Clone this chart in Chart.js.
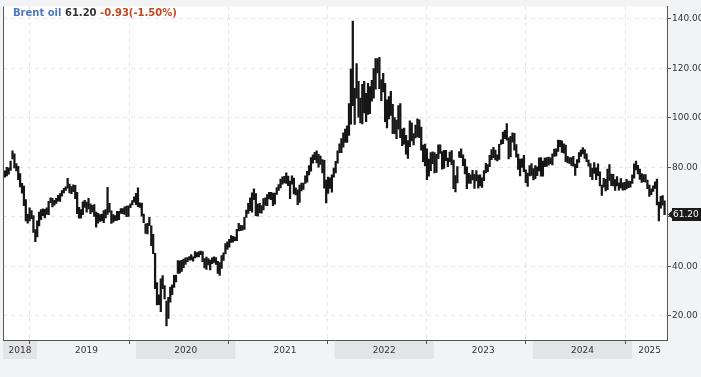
<!DOCTYPE html>
<html><head><meta charset="utf-8">
<script src="https://cdn.jsdelivr.net/npm/chart.js@4.4.1/dist/chart.umd.min.js"></script>
<style>html,body{margin:0;padding:0;background:#f2f3f5;overflow:hidden}canvas{display:block}</style>
</head><body>
<canvas id="c" width="701" height="377"></canvas>
<script>
const seriesName = 'Brent oil';
const lastPrice = 61.20, lastChange = -0.93, lastChangePct = -1.50;
const firstWeek = '2018-09-03';   // weekly bars, consecutive weeks
const years = [2018, 2019, 2020, 2021, 2022, 2023, 2024, 2025];
const yTicks = [20, 40, 60, 80, 100, 120, 140];

const low2018  = [76.1,76.6,77.3,78.8,83.5,79.8,78.6,75.1,72.1,69.6,64.6,58.4,57.5,58.4,59.3,53.8,50.0,51.9];
const high2018 = [78.6,80.1,79.9,82.6,86.7,85.5,81.6,80.5,77.5,73.6,72.5,67.0,61.1,63.7,62.6,60.6,54.9,58.4];

const low2019  = [56.4,58.9,60.5,59.6,61.0,60.9,65.8,64.1,64.8,65.5,66.4,66.3,68.4,69.7,70.7,71.6,69.7,69.4,70.2,67.4,61.3,59.5,59.5,60.9,63.9,61.9,63.2,61.3,62.0,60.2,55.9,57.5,58.2,58.4,57.7,59.6,61.0,61.9,57.4,57.9,58.5,58.6,58.9,61.4,61.3,61.0,60.1,60.2,63.8,64.9,66.0,65.0];
const high2019 = [62.0,63.0,63.3,63.1,63.7,66.3,67.7,67.5,66.7,67.5,68.7,69.4,70.7,71.6,72.2,75.6,73.3,72.3,73.0,72.8,70.0,63.9,63.0,66.1,66.7,66.0,67.5,65.3,64.7,65.0,62.0,61.5,61.0,61.2,62.6,63.0,72.0,65.5,62.5,61.0,60.6,62.3,62.3,63.4,63.4,64.1,64.4,64.5,65.3,66.6,68.1,69.5];

const low2020  = [64.2,63.9,60.3,57.7,53.3,53.1,56.5,48.4,45.2,31.0,24.5,24.6,21.7,31.0,26.9,16.0,19.0,25.6,28.6,31.5,33.7,37.2,37.3,38.0,39.5,40.8,41.9,42.5,42.6,42.1,43.4,43.9,43.9,44.8,41.9,39.4,38.8,40.6,38.6,41.1,41.6,40.8,37.2,36.4,39.2,42.4,45.1,46.9,47.8,49.7,49.8,50.4];
const high2020 = [71.8,65.7,65.6,61.2,57.2,57.4,59.8,56.4,53.0,45.3,33.5,28.5,35.0,36.3,32.3,26.0,27.5,31.7,32.6,36.4,36.5,42.4,42.3,42.5,43.0,43.5,43.6,44.0,44.8,43.9,46.0,45.6,46.0,46.2,46.0,43.2,43.8,43.2,42.6,43.5,43.9,43.6,42.1,41.6,44.4,45.5,49.2,49.9,51.0,52.5,52.2,51.9];

const low2021  = [50.4,54.4,54.5,54.7,55.0,59.8,61.4,62.5,61.9,67.0,60.5,60.3,61.6,61.5,62.8,64.7,64.6,67.3,67.0,64.6,65.2,69.1,70.7,71.7,73.2,73.8,73.6,72.6,67.4,73.2,69.3,68.9,65.0,65.9,70.5,71.1,73.5,74.1,77.0,78.5,81.7,83.1,81.8,80.1,81.2,77.8,71.6,65.7,69.5,71.5,70.0,76.1];
const high2021 = [55.0,57.4,56.6,56.5,59.8,62.8,65.5,67.7,69.7,71.4,69.4,65.2,65.5,64.6,67.4,67.7,69.0,69.9,70.0,69.6,69.6,71.9,73.1,75.3,76.2,76.4,77.8,76.5,74.5,76.6,75.7,71.8,71.0,72.9,73.7,73.7,76.6,78.4,80.8,84.0,85.1,86.1,86.7,85.3,84.6,83.2,82.9,74.9,76.1,75.8,77.0,79.7];

const low2022  = [77.8,81.7,86.0,86.0,88.2,90.1,90.1,92.9,97.5,105.0,97.4,108.0,100.3,98.0,97.6,102.0,98.5,101.4,101.7,106.8,108.0,111.6,118.2,111.8,107.0,110.5,98.5,96.0,99.6,101.0,93.7,93.7,91.6,95.5,92.0,88.8,89.4,85.4,83.7,88.4,90.7,89.1,91.9,92.3,92.0,87.0,82.3,80.6,75.1,76.5,78.7,81.5];
const high2022 = [82.5,86.7,89.5,91.7,94.0,95.5,96.8,105.8,119.8,139.1,112.0,122.0,114.8,108.0,113.6,114.8,110.0,114.0,112.7,115.2,120.0,124.0,124.0,124.5,115.5,118.0,114.0,107.3,108.6,110.8,105.5,100.2,99.1,105.0,105.8,95.5,95.9,93.0,90.9,98.8,98.0,93.7,97.1,99.6,99.2,96.3,89.0,89.4,87.5,83.4,86.0,86.3];

const low2023  = [77.8,78.0,83.6,85.7,79.3,79.6,82.7,80.3,82.3,81.1,71.4,70.1,73.8,84.1,84.0,80.7,77.4,71.4,73.6,73.6,75.0,71.5,74.6,71.6,72.5,71.9,74.7,77.8,78.3,80.3,83.1,84.0,83.0,82.6,83.2,89.3,89.6,91.6,91.0,83.4,84.3,90.2,87.0,84.2,79.2,76.6,80.0,78.3,73.9,72.3,76.6,76.8];
const high2023 = [86.0,85.3,89.1,89.1,86.4,86.9,86.9,83.8,86.2,86.8,83.0,76.7,80.4,86.4,87.5,85.1,83.4,80.3,77.6,77.0,78.8,77.2,78.7,76.9,77.0,75.8,78.7,81.7,81.2,84.9,87.2,88.1,87.0,85.1,89.3,91.2,94.3,95.0,97.7,92.0,92.6,94.0,93.8,89.2,85.4,83.4,83.5,84.9,79.0,77.7,80.8,81.6];

const low2024  = [75.0,75.5,76.7,78.6,76.5,76.5,80.3,80.4,80.9,81.5,81.0,84.5,84.7,86.5,88.4,86.1,85.8,82.3,81.8,81.6,80.8,80.5,76.8,79.9,82.0,84.5,85.5,83.7,82.3,80.5,76.3,75.1,77.6,75.1,76.7,72.5,68.7,72.0,70.5,71.0,74.8,72.6,72.5,70.7,72.5,70.8,71.7,70.8,70.9,71.3,71.8,72.0,73.5];
const high2024 = [79.5,80.8,80.3,83.9,84.0,82.6,83.8,84.0,84.2,83.9,85.5,87.4,87.5,91.1,91.0,90.8,89.5,89.0,84.5,84.0,84.0,84.5,81.4,83.2,86.0,87.0,88.0,87.2,85.5,83.0,81.6,79.7,82.0,79.9,81.5,78.2,72.9,75.6,75.2,79.3,81.2,77.3,77.2,75.1,76.3,73.8,75.5,73.8,74.0,75.2,74.5,74.4,77.0];

const low2025  = [75.7,79.0,77.4,75.2,74.0,74.3,74.1,71.4,68.3,69.0,70.3,71.5,64.9,58.4,63.5,64.8,60.9];
const high2025 = [81.5,82.6,80.9,79.3,77.5,77.1,77.1,74.9,72.9,71.4,72.6,74.2,75.3,66.0,68.3,68.6,66.5];

// ---------- build ----------
const DAY0 = Date.UTC(2020, 0, 1);
function dayIndex(str) { const [y, m, d] = str.split('-').map(Number); return (Date.UTC(y, m - 1, d) - DAY0) / 86400000; }
const lows  = [].concat(low2018, low2019, low2020, low2021, low2022, low2023, low2024, low2025);
const highs = [].concat(high2018, high2019, high2020, high2021, high2022, high2023, high2024, high2025);
const w0 = dayIndex(firstWeek);
const bars = lows.map((lo, i) => ({ x: w0 + 7 * i + 2, y: [lo, highs[i]] }));

const yearTicks = years.slice(1).map(y => dayIndex(y + '-01-01') - 26);
const X_MIN = -490, X_MAX = 1955;
const Y_MAX = 145.08, Y_MIN = 10.28;

const FONT = '"DejaVu Sans", sans-serif';

const decor = {
  id: 'decor',
  beforeDraw(chart) {
    const { ctx, chartArea: a, scales: { x } } = chart;
    ctx.save();
    ctx.fillStyle = '#f2f3f5';
    ctx.fillRect(0, 0, chart.width, chart.height);
    ctx.fillStyle = '#ffffff';
    ctx.fillRect(a.left, a.top, a.right - a.left, a.bottom - a.top);
    years.forEach((y, i) => {
      const s = Math.max(x.getPixelForValue(dayIndex(y + '-01-01')), a.left);
      const e = Math.min(x.getPixelForValue(dayIndex((y + 1) + '-01-01')), a.right);
      if (i % 2 === 0) {
        ctx.fillStyle = '#e3e4e6';
        ctx.fillRect(s, a.bottom + 1, e - s, 18);
      }
    });
    ctx.restore();
  },
  afterDraw(chart) {
    const { ctx, chartArea: a, scales: { x, y } } = chart;
    ctx.save();
    ctx.fillStyle = '#555';
    ctx.fillRect(a.left, a.top, 1, a.bottom - a.top);
    ctx.font = '9px ' + FONT;
    ctx.fillStyle = '#333';
    ctx.textAlign = 'center';
    ctx.textBaseline = 'middle';
    years.forEach(yr => {
      const s = Math.max(x.getPixelForValue(dayIndex(yr + '-01-01')), a.left);
      const e = Math.min(x.getPixelForValue(dayIndex((yr + 1) + '-01-01')), a.right);
      ctx.fillText(String(yr), (s + e) / 2, a.bottom + 11);
    });
    ctx.textAlign = 'left';
    ctx.font = 'bold 10px ' + FONT;
    let tx = 13; const ty = 13.5;
    const parts = [
      [seriesName, '#4d78c6'],
      [lastPrice.toFixed(2), '#333333'],
      [lastChange.toFixed(2) + '(' + lastChangePct.toFixed(2) + '%)', '#c4471d']
    ];
    parts.forEach(([t, c]) => {
      ctx.fillStyle = c;
      ctx.fillText(t, tx, ty);
      tx += ctx.measureText(t + ' ').width;
    });
    const py = Math.round(y.getPixelForValue(lastPrice)) + 0.5;
    ctx.fillStyle = '#1b1b1b';
    ctx.beginPath();
    ctx.moveTo(a.right + 1, py);
    ctx.lineTo(a.right + 5, py - 4);
    ctx.lineTo(a.right + 5, py + 4);
    ctx.closePath();
    ctx.fill();
    ctx.fillRect(a.right + 5, py - 6.5, chart.width - a.right - 5, 13);
    ctx.fillStyle = '#ffffff';
    ctx.font = '9px ' + FONT;
    ctx.fillText(lastPrice.toFixed(2), a.right + 6, py + 0.5);
    ctx.restore();
  }
};

new Chart(document.getElementById('c').getContext('2d'), {
  type: 'bar',
  data: { datasets: [{ data: bars, backgroundColor: '#161616', borderWidth: 0, barThickness: 1.6, grouped: false }] },
  options: {
    responsive: false, animation: false, devicePixelRatio: 1,
    layout: { padding: { left: 3, top: 3, right: 0, bottom: 0 } },
    plugins: { legend: { display: false }, tooltip: { enabled: false } },
    scales: {
      x: {
        type: 'linear', min: X_MIN, max: X_MAX, offset: false,
        afterBuildTicks: s => { s.ticks = yearTicks.map(v => ({ value: v })); },
        afterFit: s => { s.height = 37; },
        ticks: { display: false },
        grid: { offset: false, color: '#e6e6e6', lineWidth: 1, drawTicks: true, tickLength: 4, tickColor: '#555' },
        border: { display: true, color: '#555', width: 1, dash: [4, 4] }
      },
      y: {
        position: 'right', min: Y_MIN, max: Y_MAX,
        afterBuildTicks: s => { s.ticks = yTicks.map(v => ({ value: v })); },
        afterFit: s => { s.width = 34; },
        ticks: { font: { family: 'DejaVu Sans', size: 9 }, color: '#333', padding: 1, callback: v => Number(v).toFixed(2) },
        grid: { offset: false, color: '#e6e6e6', lineWidth: 1, drawTicks: true, tickLength: 4, tickColor: '#555' },
        border: { display: true, color: '#555', width: 1, dash: [4, 4] }
      }
    }
  },
  plugins: [decor]
});
</script>
</body></html>
